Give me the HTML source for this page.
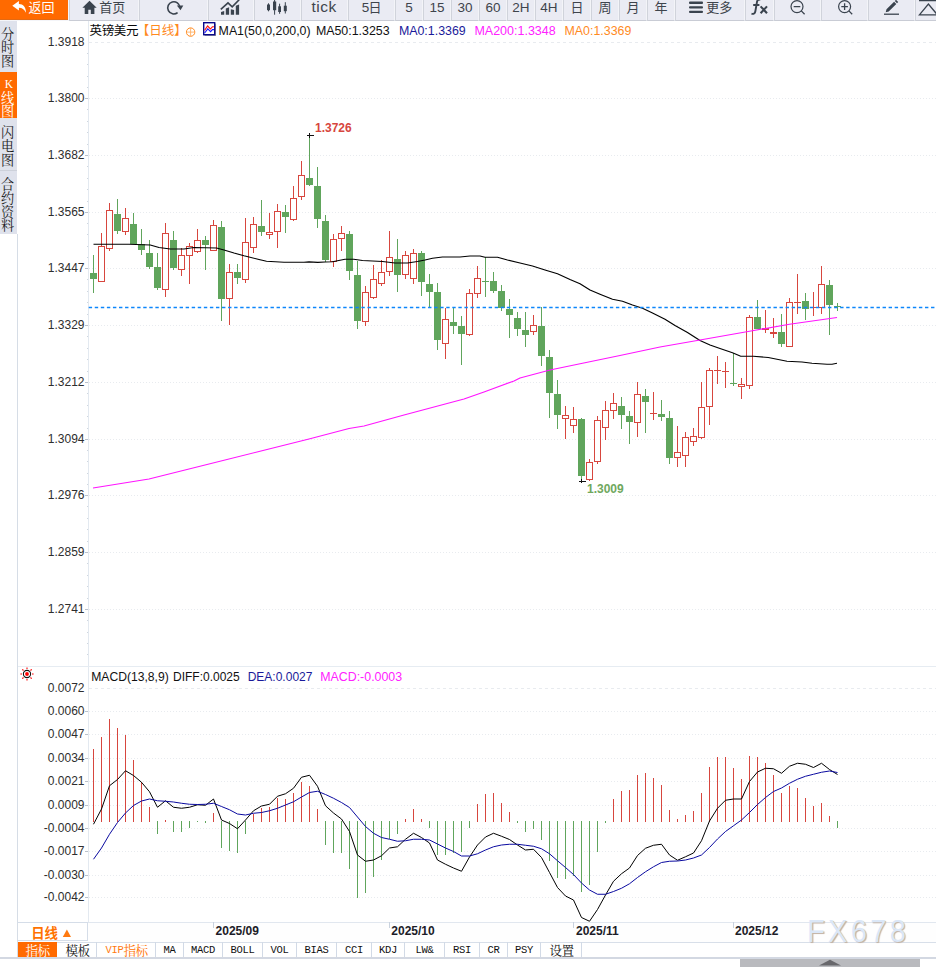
<!DOCTYPE html>
<html lang="zh-CN"><head><meta charset="utf-8">
<title>英镑美元 日线</title>
<style>
html,body{margin:0;padding:0;background:#fff;}
body{width:936px;height:967px;overflow:hidden;position:relative;font-family:"Liberation Sans",sans-serif;color:#222;}
#app{position:absolute;left:0;top:0;width:936px;height:967px;overflow:hidden;background:#fff;}
.abs{position:absolute;}
.t{position:absolute;white-space:nowrap;font-size:12px;line-height:14px;height:14px;}
.yl{position:absolute;left:20px;width:64.5px;text-align:right;font-size:12px;line-height:14px;height:14px;color:#2e2e2e;white-space:nowrap;}
#toolbar{position:absolute;left:0;top:0;width:936px;height:21px;background:#eaebf3;}
.cell{position:absolute;top:0;height:21px;box-sizing:border-box;border-left:1px solid #d0d3db;border-right:1px solid #f3f4f8;border-bottom:1px solid #c9ccd5;}
.tb{position:absolute;top:0;height:20px;line-height:16px;font-size:13.5px;color:#3e444c;text-align:center;white-space:nowrap;}
#side{position:absolute;left:0;top:21px;width:17.4px;height:213px;background:#dfe2ec;}
#tabs{position:absolute;left:18px;top:942px;width:918px;height:15px;border-bottom:1px solid #c5cbd6;}
.tab{position:absolute;top:0;height:15px;box-sizing:border-box;border-right:1px solid #d2dae6;font-family:"Liberation Mono",monospace;font-size:10.5px;line-height:16px;text-align:center;color:#111;letter-spacing:-0.3px;}
svg{position:absolute;left:0;top:0;overflow:visible;}
svg text{font-family:"Liberation Sans","Noto Sans CJK SC",sans-serif;}
svg text.sf{font-family:"Liberation Serif","Noto Serif CJK SC",serif;}
</style></head><body><div id="app">

<div id="toolbar">
<div class="cell" style="left:69px;width:70px"></div>
<div class="cell" style="left:139px;width:69px"></div>
<div class="cell" style="left:208px;width:46px"></div>
<div class="cell" style="left:254px;width:47px"></div>
<div class="cell" style="left:301px;width:47px"></div>
<div class="cell" style="left:348px;width:47px"></div>
<div class="cell" style="left:395px;width:28px"></div>
<div class="cell" style="left:423px;width:28px"></div>
<div class="cell" style="left:451px;width:28px"></div>
<div class="cell" style="left:479px;width:28px"></div>
<div class="cell" style="left:507px;width:28px"></div>
<div class="cell" style="left:535px;width:28px"></div>
<div class="cell" style="left:563px;width:28px"></div>
<div class="cell" style="left:591px;width:28px"></div>
<div class="cell" style="left:619px;width:28px"></div>
<div class="cell" style="left:647px;width:28px"></div>
<div class="cell" style="left:675px;width:70px"></div>
<div class="cell" style="left:745px;width:29px"></div>
<div class="cell" style="left:774px;width:47px"></div>
<div class="cell" style="left:821px;width:47px"></div>
<div class="cell" style="left:868px;width:47px"></div>
<div class="cell" style="left:915px;width:22px"></div>
<div class="abs" style="left:0;top:0;width:69px;height:21px;background:#f4f5f9"></div><div class="abs" style="left:0;top:0;width:68px;height:20px;background:#ff6a00;border-bottom:0.6px solid #e26a14;box-sizing:border-box"></div>
<div class="tb" style="left:301px;width:46px;font-size:15.5px;letter-spacing:0.5px;line-height:14px">tick</div>
<div class="tb" style="left:395px;width:28px;">5</div>
<div class="tb" style="left:423px;width:28px;">15</div>
<div class="tb" style="left:451px;width:28px;">30</div>
<div class="tb" style="left:479px;width:28px;">60</div>
<div class="tb" style="left:507px;width:28px;">2H</div>
<div class="tb" style="left:535px;width:28px;">4H</div>
<div class="tb" style="left:358px;width:15px;">5</div>
</div>
<div id="side"></div>
<div class="abs" style="left:0;top:72px;width:17.4px;height:46px;background:#ff6a00"></div>
<div class="abs" style="left:0;top:170px;width:17.4px;height:1px;background:#cdd1da"></div>
<div class="abs" style="left:17px;top:234px;width:1px;height:723px;background:#d6dde6"></div>
<div class="yl" style="top:35.4px">1.3918</div>
<div class="yl" style="top:91.4px">1.3800</div>
<div class="yl" style="top:148.4px">1.3682</div>
<div class="yl" style="top:205.4px">1.3565</div>
<div class="yl" style="top:261.4px">1.3447</div>
<div class="yl" style="top:318.4px">1.3329</div>
<div class="yl" style="top:375.4px">1.3212</div>
<div class="yl" style="top:432.4px">1.3094</div>
<div class="yl" style="top:488.4px">1.2976</div>
<div class="yl" style="top:545.4px">1.2859</div>
<div class="yl" style="top:602.4px">1.2741</div>
<div class="yl" style="top:681.4px">0.0072</div>
<div class="yl" style="top:704.4px">0.0060</div>
<div class="yl" style="top:727.4px">0.0047</div>
<div class="yl" style="top:751.4px">0.0034</div>
<div class="yl" style="top:774.4px">0.0021</div>
<div class="yl" style="top:798.4px">0.0009</div>
<div class="yl" style="top:821.4px">-0.0004</div>
<div class="yl" style="top:844.4px">-0.0017</div>
<div class="yl" style="top:868.4px">-0.0030</div>
<div class="yl" style="top:890.4px">-0.0042</div>
<div class="t" style="left:218.6px;top:24px;color:#111;font-size:12.35px;">MA1(50,0,200,0)</div>
<div class="t" style="left:315.9px;top:24px;color:#111;font-size:12.4px;">MA50:1.3253</div>
<div class="t" style="left:398.9px;top:24px;color:#1a1a9a;font-size:12.4px;">MA0:1.3369</div>
<div class="t" style="left:474.4px;top:24px;color:#ff22ff;font-size:12.5px;">MA200:1.3348</div>
<div class="t" style="left:564.5px;top:24px;color:#ff8a1e;font-size:12.4px;">MA0:1.3369</div>
<div class="t" style="left:91.2px;top:670px;color:#111;font-size:12.15px;">MACD(13,8,9)</div>
<div class="t" style="left:173px;top:670px;color:#111;font-size:12px;">DIFF:0.0025</div>
<div class="t" style="left:247.7px;top:670px;color:#1a1a9a;font-size:12px;">DEA:0.0027</div>
<div class="t" style="left:320.2px;top:670px;color:#ff22ff;font-size:12.4px;">MACD:-0.0003</div>
<div class="t" style="left:315px;top:121.1px;color:#d7463e;font-size:12px;font-weight:bold;">1.3726</div>
<div class="t" style="left:587px;top:482px;color:#6fa85e;font-size:12px;font-weight:bold;">1.3009</div>
<div class="abs" style="left:18px;top:922px;width:918px;height:19px;border-top:1px solid #e1e7ef;border-bottom:1px solid #d8dfe9;background:#fefefe"></div>
<div class="abs" style="left:18px;top:922px;width:70px;height:19px;box-sizing:border-box;border:1px solid #d5dde8;border-left:none;background:#fff"></div>
<div class="t" style="left:215.6px;top:924.4px;color:#1c1c28;font-size:12px;font-weight:bold;">2025/09</div>
<div class="t" style="left:391.3px;top:924.4px;color:#1c1c28;font-size:12px;font-weight:bold;">2025/10</div>
<div class="t" style="left:576px;top:924.4px;color:#1c1c28;font-size:12px;font-weight:bold;">2025/11</div>
<div class="t" style="left:735px;top:924.4px;color:#1c1c28;font-size:12px;font-weight:bold;">2025/12</div>
<div id="tabs">
<div class="tab" style="left:0px;width:39px;background:#ff6a00;border-right:none;"></div>
<div class="tab" style="left:39px;width:40px;"></div>
<div class="tab" style="left:79px;width:59px;"></div>
<div class="tab" style="left:138px;width:28px;">MA</div>
<div class="tab" style="left:166px;width:39px;">MACD</div>
<div class="tab" style="left:205px;width:40px;">BOLL</div>
<div class="tab" style="left:245px;width:34px;">VOL</div>
<div class="tab" style="left:279px;width:40px;">BIAS</div>
<div class="tab" style="left:319px;width:35px;">CCI</div>
<div class="tab" style="left:354px;width:33px;">KDJ</div>
<div class="tab" style="left:387px;width:40px;">LW&amp;</div>
<div class="tab" style="left:427px;width:35px;">RSI</div>
<div class="tab" style="left:462px;width:28px;">CR</div>
<div class="tab" style="left:490px;width:33px;">PSY</div>
<div class="tab" style="left:523px;width:41px;"></div>
</div>
<div class="t" style="left:105.6px;top:942.5px;font-family:'Liberation Mono',monospace;font-size:10.5px;letter-spacing:-0.3px;color:#ff7a10;line-height:15px">VIP</div>
<div class="abs" style="left:740px;top:959px;width:180px;height:8px;background:#b9babe"></div>
<div class="abs" style="left:0;top:957px;width:936px;height:2px;background:#d3d8e2"></div>
<div class="abs" style="left:806.6px;top:913.6px;font-size:30.8px;line-height:36px;letter-spacing:3.6px;transform:scaleX(0.94);transform-origin:0 0;color:#dbe7f7;text-shadow:1.2px 1.1px 0.8px #c2b2a4;white-space:nowrap">FX678</div>
<svg width="936" height="967" viewBox="0 0 936 967">
<g stroke="#e3e9f0" stroke-width="1" fill="none" shape-rendering="crispEdges">
<line x1="88.5" y1="21" x2="88.5" y2="922"/>
<line x1="18" y1="666.5" x2="936" y2="666.5" stroke="#e6ecf2"/>
</g>
<g stroke="#e8ebef" stroke-width="1" fill="none" shape-rendering="crispEdges">
<line x1="89" y1="42.5" x2="936" y2="42.5" stroke-dasharray="3 3"/>
<line x1="89" y1="98.5" x2="936" y2="98.5" stroke-dasharray="1 2"/>
<line x1="89" y1="155.5" x2="936" y2="155.5" stroke-dasharray="1 2"/>
<line x1="89" y1="212.5" x2="936" y2="212.5" stroke-dasharray="1 2"/>
<line x1="89" y1="268.5" x2="936" y2="268.5" stroke-dasharray="1 2"/>
<line x1="89" y1="325.5" x2="936" y2="325.5" stroke-dasharray="1 2"/>
<line x1="89" y1="382.5" x2="936" y2="382.5" stroke-dasharray="1 2"/>
<line x1="89" y1="439.5" x2="936" y2="439.5" stroke-dasharray="1 2"/>
<line x1="89" y1="495.5" x2="936" y2="495.5" stroke-dasharray="1 2"/>
<line x1="89" y1="552.5" x2="936" y2="552.5" stroke-dasharray="1 2"/>
<line x1="89" y1="609.5" x2="936" y2="609.5" stroke-dasharray="1 2"/>
<line x1="89" y1="688.5" x2="936" y2="688.5" stroke-dasharray="3 3"/>
<line x1="89" y1="711.5" x2="936" y2="711.5" stroke-dasharray="1 2"/>
<line x1="89" y1="734.5" x2="936" y2="734.5" stroke-dasharray="1 2"/>
<line x1="89" y1="758.5" x2="936" y2="758.5" stroke-dasharray="1 2"/>
<line x1="89" y1="781.5" x2="936" y2="781.5" stroke-dasharray="1 2"/>
<line x1="89" y1="805.5" x2="936" y2="805.5" stroke-dasharray="1 2"/>
<line x1="89" y1="828.5" x2="936" y2="828.5" stroke-dasharray="1 2"/>
<line x1="89" y1="851.5" x2="936" y2="851.5" stroke-dasharray="1 2"/>
<line x1="89" y1="875.5" x2="936" y2="875.5" stroke-dasharray="1 2"/>
<line x1="89" y1="897.5" x2="936" y2="897.5" stroke-dasharray="1 2"/>
</g>
<g stroke="#b9c1cb" stroke-width="1" shape-rendering="crispEdges">
<line x1="85" y1="98.5" x2="88" y2="98.5"/>
<line x1="85" y1="155.5" x2="88" y2="155.5"/>
<line x1="85" y1="212.5" x2="88" y2="212.5"/>
<line x1="85" y1="268.5" x2="88" y2="268.5"/>
<line x1="85" y1="325.5" x2="88" y2="325.5"/>
<line x1="85" y1="382.5" x2="88" y2="382.5"/>
<line x1="85" y1="439.5" x2="88" y2="439.5"/>
<line x1="85" y1="495.5" x2="88" y2="495.5"/>
<line x1="85" y1="552.5" x2="88" y2="552.5"/>
<line x1="85" y1="609.5" x2="88" y2="609.5"/>
<line x1="85" y1="711.5" x2="88" y2="711.5"/>
<line x1="85" y1="734.5" x2="88" y2="734.5"/>
<line x1="85" y1="758.5" x2="88" y2="758.5"/>
<line x1="85" y1="781.5" x2="88" y2="781.5"/>
<line x1="85" y1="805.5" x2="88" y2="805.5"/>
<line x1="85" y1="828.5" x2="88" y2="828.5"/>
<line x1="85" y1="851.5" x2="88" y2="851.5"/>
<line x1="85" y1="875.5" x2="88" y2="875.5"/>
<line x1="85" y1="897.5" x2="88" y2="897.5"/>
</g><g stroke="#cfd6de" stroke-width="1" shape-rendering="crispEdges">
<line x1="87" y1="53.5" x2="88" y2="53.5"/>
<line x1="87" y1="64.5" x2="88" y2="64.5"/>
<line x1="87" y1="76.5" x2="88" y2="76.5"/>
<line x1="87" y1="87.5" x2="88" y2="87.5"/>
<line x1="87" y1="109.5" x2="88" y2="109.5"/>
<line x1="87" y1="121.5" x2="88" y2="121.5"/>
<line x1="87" y1="132.5" x2="88" y2="132.5"/>
<line x1="87" y1="144.5" x2="88" y2="144.5"/>
<line x1="87" y1="166.5" x2="88" y2="166.5"/>
<line x1="87" y1="178.5" x2="88" y2="178.5"/>
<line x1="87" y1="189.5" x2="88" y2="189.5"/>
<line x1="87" y1="201.5" x2="88" y2="201.5"/>
<line x1="87" y1="223.5" x2="88" y2="223.5"/>
<line x1="87" y1="234.5" x2="88" y2="234.5"/>
<line x1="87" y1="246.5" x2="88" y2="246.5"/>
<line x1="87" y1="257.5" x2="88" y2="257.5"/>
<line x1="87" y1="279.5" x2="88" y2="279.5"/>
<line x1="87" y1="291.5" x2="88" y2="291.5"/>
<line x1="87" y1="302.5" x2="88" y2="302.5"/>
<line x1="87" y1="314.5" x2="88" y2="314.5"/>
<line x1="87" y1="336.5" x2="88" y2="336.5"/>
<line x1="87" y1="348.5" x2="88" y2="348.5"/>
<line x1="87" y1="359.5" x2="88" y2="359.5"/>
<line x1="87" y1="371.5" x2="88" y2="371.5"/>
<line x1="87" y1="393.5" x2="88" y2="393.5"/>
<line x1="87" y1="405.5" x2="88" y2="405.5"/>
<line x1="87" y1="416.5" x2="88" y2="416.5"/>
<line x1="87" y1="428.5" x2="88" y2="428.5"/>
<line x1="87" y1="450.5" x2="88" y2="450.5"/>
<line x1="87" y1="461.5" x2="88" y2="461.5"/>
<line x1="87" y1="473.5" x2="88" y2="473.5"/>
<line x1="87" y1="484.5" x2="88" y2="484.5"/>
<line x1="87" y1="506.5" x2="88" y2="506.5"/>
<line x1="87" y1="518.5" x2="88" y2="518.5"/>
<line x1="87" y1="529.5" x2="88" y2="529.5"/>
<line x1="87" y1="541.5" x2="88" y2="541.5"/>
<line x1="87" y1="563.5" x2="88" y2="563.5"/>
<line x1="87" y1="575.5" x2="88" y2="575.5"/>
<line x1="87" y1="586.5" x2="88" y2="586.5"/>
<line x1="87" y1="598.5" x2="88" y2="598.5"/>
<line x1="87" y1="620.5" x2="88" y2="620.5"/>
<line x1="87" y1="632.5" x2="88" y2="632.5"/>
<line x1="87" y1="643.5" x2="88" y2="643.5"/>
<line x1="87" y1="654.5" x2="88" y2="654.5"/>
</g>
<g stroke="#c9d2de" stroke-width="1" shape-rendering="crispEdges">
<line x1="213.5" y1="922" x2="213.5" y2="928"/>
<line x1="389.5" y1="922" x2="389.5" y2="928"/>
<line x1="573.5" y1="922" x2="573.5" y2="928"/>
<line x1="733.5" y1="922" x2="733.5" y2="928"/>
</g>
<g stroke-width="1" shape-rendering="crispEdges">
<path d="M93.5 255V293" stroke="#60a55c"/>
<rect x="90" y="273" width="7" height="6" fill="#60a55c"/>
<path d="M101.5 233V246M101.5 282V282" stroke="#d7463e" fill="none"/>
<rect x="98.5" y="246.5" width="6" height="35" fill="#fff" stroke="#d7463e"/>
<path d="M109.5 203V210M109.5 249V251" stroke="#d7463e" fill="none"/>
<rect x="106.5" y="210.5" width="6" height="38" fill="#fff" stroke="#d7463e"/>
<path d="M117.5 199V234" stroke="#60a55c"/>
<rect x="114" y="214" width="7" height="17" fill="#60a55c"/>
<path d="M125.5 208V218M125.5 232V235" stroke="#d7463e" fill="none"/>
<rect x="122.5" y="218.5" width="6" height="13" fill="#fff" stroke="#d7463e"/>
<path d="M133.5 213V244" stroke="#60a55c"/>
<rect x="130" y="224" width="7" height="20" fill="#60a55c"/>
<path d="M141.5 229V255" stroke="#60a55c"/>
<rect x="138" y="244" width="7" height="6" fill="#60a55c"/>
<path d="M149.5 240V269" stroke="#60a55c"/>
<rect x="146" y="253" width="7" height="14" fill="#60a55c"/>
<path d="M157.5 253V290" stroke="#60a55c"/>
<rect x="154" y="267" width="7" height="21" fill="#60a55c"/>
<path d="M165.5 223V233M165.5 290V297" stroke="#d7463e" fill="none"/>
<rect x="162.5" y="233.5" width="6" height="56" fill="#fff" stroke="#d7463e"/>
<path d="M173.5 231V270" stroke="#60a55c"/>
<rect x="170" y="240" width="7" height="28" fill="#60a55c"/>
<path d="M181.5 248V255M181.5 270V276" stroke="#d7463e" fill="none"/>
<rect x="178.5" y="255.5" width="6" height="14" fill="#fff" stroke="#d7463e"/>
<path d="M189.5 243V246M189.5 256V284" stroke="#d7463e" fill="none"/>
<rect x="186.5" y="246.5" width="6" height="9" fill="#fff" stroke="#d7463e"/>
<path d="M197.5 229V240M197.5 252V253" stroke="#d7463e" fill="none"/>
<rect x="194.5" y="240.5" width="6" height="11" fill="#fff" stroke="#d7463e"/>
<path d="M205.5 236V270" stroke="#60a55c"/>
<rect x="202" y="240" width="7" height="5" fill="#60a55c"/>
<path d="M213.5 220V225M213.5 251V251" stroke="#d7463e" fill="none"/>
<rect x="210.5" y="225.5" width="6" height="25" fill="#fff" stroke="#d7463e"/>
<path d="M221.5 221V321" stroke="#60a55c"/>
<rect x="218" y="227" width="7" height="72" fill="#60a55c"/>
<path d="M229.5 264V272M229.5 299V325" stroke="#d7463e" fill="none"/>
<rect x="226.5" y="272.5" width="6" height="26" fill="#fff" stroke="#d7463e"/>
<path d="M237.5 264V284" stroke="#60a55c"/>
<rect x="234" y="272" width="7" height="6" fill="#60a55c"/>
<path d="M245.5 218V242M245.5 280V283" stroke="#d7463e" fill="none"/>
<rect x="242.5" y="242.5" width="6" height="37" fill="#fff" stroke="#d7463e"/>
<path d="M253.5 217V224M253.5 248V253" stroke="#d7463e" fill="none"/>
<rect x="250.5" y="224.5" width="6" height="23" fill="#fff" stroke="#d7463e"/>
<path d="M261.5 200V236" stroke="#60a55c"/>
<rect x="258" y="226" width="7" height="6" fill="#60a55c"/>
<path d="M269.5 213V232M269.5 235V239" stroke="#d7463e" fill="none"/>
<rect x="266.5" y="232.5" width="6" height="2" fill="#fff" stroke="#d7463e"/>
<path d="M277.5 204V211M277.5 232V248" stroke="#d7463e" fill="none"/>
<rect x="274.5" y="211.5" width="6" height="20" fill="#fff" stroke="#d7463e"/>
<path d="M285.5 205V233" stroke="#60a55c"/>
<rect x="282" y="212" width="7" height="5" fill="#60a55c"/>
<path d="M293.5 186V198M293.5 220V221" stroke="#d7463e" fill="none"/>
<rect x="290.5" y="198.5" width="6" height="21" fill="#fff" stroke="#d7463e"/>
<path d="M301.5 161V175M301.5 197V200" stroke="#d7463e" fill="none"/>
<rect x="298.5" y="175.5" width="6" height="21" fill="#fff" stroke="#d7463e"/>
<path d="M309.5 135V186" stroke="#60a55c"/>
<rect x="306" y="178" width="7" height="7" fill="#60a55c"/>
<path d="M317.5 167V228" stroke="#60a55c"/>
<rect x="314" y="186" width="7" height="33" fill="#60a55c"/>
<path d="M325.5 215V262" stroke="#60a55c"/>
<rect x="322" y="221" width="7" height="39" fill="#60a55c"/>
<path d="M333.5 234V239M333.5 262V267" stroke="#d7463e" fill="none"/>
<rect x="330.5" y="239.5" width="6" height="22" fill="#fff" stroke="#d7463e"/>
<path d="M341.5 226V233M341.5 239V251" stroke="#d7463e" fill="none"/>
<rect x="338.5" y="233.5" width="6" height="5" fill="#fff" stroke="#d7463e"/>
<path d="M349.5 231V280" stroke="#60a55c"/>
<rect x="346" y="234" width="7" height="37" fill="#60a55c"/>
<path d="M357.5 261V329" stroke="#60a55c"/>
<rect x="354" y="275" width="7" height="46" fill="#60a55c"/>
<path d="M365.5 286V292M365.5 322V326" stroke="#d7463e" fill="none"/>
<rect x="362.5" y="292.5" width="6" height="29" fill="#fff" stroke="#d7463e"/>
<path d="M373.5 265V279M373.5 298V299" stroke="#d7463e" fill="none"/>
<rect x="370.5" y="279.5" width="6" height="18" fill="#fff" stroke="#d7463e"/>
<path d="M381.5 260V272M381.5 284V286" stroke="#d7463e" fill="none"/>
<rect x="378.5" y="272.5" width="6" height="11" fill="#fff" stroke="#d7463e"/>
<path d="M389.5 231V257M389.5 272V276" stroke="#d7463e" fill="none"/>
<rect x="386.5" y="257.5" width="6" height="14" fill="#fff" stroke="#d7463e"/>
<path d="M397.5 239V292" stroke="#60a55c"/>
<rect x="394" y="259" width="7" height="16" fill="#60a55c"/>
<path d="M405.5 251V255M405.5 275V279" stroke="#d7463e" fill="none"/>
<rect x="402.5" y="255.5" width="6" height="19" fill="#fff" stroke="#d7463e"/>
<path d="M413.5 249V253M413.5 279V284" stroke="#d7463e" fill="none"/>
<rect x="410.5" y="253.5" width="6" height="25" fill="#fff" stroke="#d7463e"/>
<path d="M421.5 251V296" stroke="#60a55c"/>
<rect x="418" y="253" width="7" height="29" fill="#60a55c"/>
<path d="M429.5 274V307" stroke="#60a55c"/>
<rect x="426" y="284" width="7" height="8" fill="#60a55c"/>
<path d="M437.5 283V350" stroke="#60a55c"/>
<rect x="434" y="292" width="7" height="48" fill="#60a55c"/>
<path d="M445.5 308V319M445.5 344V359" stroke="#d7463e" fill="none"/>
<rect x="442.5" y="319.5" width="6" height="24" fill="#fff" stroke="#d7463e"/>
<path d="M453.5 308V334" stroke="#60a55c"/>
<rect x="450" y="322" width="7" height="4" fill="#60a55c"/>
<path d="M461.5 316V365" stroke="#60a55c"/>
<rect x="458" y="326" width="7" height="8" fill="#60a55c"/>
<path d="M469.5 289V293M469.5 335V336" stroke="#d7463e" fill="none"/>
<rect x="466.5" y="293.5" width="6" height="41" fill="#fff" stroke="#d7463e"/>
<path d="M477.5 266V278M477.5 294V298" stroke="#d7463e" fill="none"/>
<rect x="474.5" y="278.5" width="6" height="15" fill="#fff" stroke="#d7463e"/>
<path d="M485.5 257V297" stroke="#60a55c"/>
<rect x="482" y="281" width="7" height="1" fill="#60a55c"/>
<path d="M493.5 272V293" stroke="#60a55c"/>
<rect x="490" y="281" width="7" height="10" fill="#60a55c"/>
<path d="M501.5 285V311" stroke="#60a55c"/>
<rect x="498" y="291" width="7" height="17" fill="#60a55c"/>
<path d="M509.5 299V338" stroke="#60a55c"/>
<rect x="506" y="309" width="7" height="6" fill="#60a55c"/>
<path d="M517.5 312V336" stroke="#60a55c"/>
<rect x="514" y="318" width="7" height="11" fill="#60a55c"/>
<path d="M525.5 312V347" stroke="#60a55c"/>
<rect x="522" y="330" width="7" height="5" fill="#60a55c"/>
<path d="M533.5 315V325M533.5 332V335" stroke="#d7463e" fill="none"/>
<rect x="530.5" y="325.5" width="6" height="6" fill="#fff" stroke="#d7463e"/>
<path d="M541.5 307V366" stroke="#60a55c"/>
<rect x="538" y="326" width="7" height="30" fill="#60a55c"/>
<path d="M549.5 350V418" stroke="#60a55c"/>
<rect x="546" y="357" width="7" height="36" fill="#60a55c"/>
<path d="M557.5 380V429" stroke="#60a55c"/>
<rect x="554" y="394" width="7" height="21" fill="#60a55c"/>
<path d="M565.5 406V415M565.5 419V439" stroke="#d7463e" fill="none"/>
<rect x="562.5" y="415.5" width="6" height="3" fill="#fff" stroke="#d7463e"/>
<path d="M573.5 407V419M573.5 426V433" stroke="#d7463e" fill="none"/>
<rect x="570.5" y="419.5" width="6" height="6" fill="#fff" stroke="#d7463e"/>
<path d="M581.5 418V481" stroke="#60a55c"/>
<rect x="578" y="419" width="7" height="57" fill="#60a55c"/>
<path d="M589.5 459V462M589.5 480V481" stroke="#d7463e" fill="none"/>
<rect x="586.5" y="462.5" width="6" height="17" fill="#fff" stroke="#d7463e"/>
<path d="M597.5 416V420M597.5 462V464" stroke="#d7463e" fill="none"/>
<rect x="594.5" y="420.5" width="6" height="41" fill="#fff" stroke="#d7463e"/>
<path d="M605.5 401V410M605.5 428V440" stroke="#d7463e" fill="none"/>
<rect x="602.5" y="410.5" width="6" height="17" fill="#fff" stroke="#d7463e"/>
<path d="M613.5 393V403M613.5 411V419" stroke="#d7463e" fill="none"/>
<rect x="610.5" y="403.5" width="6" height="7" fill="#fff" stroke="#d7463e"/>
<path d="M621.5 397V429" stroke="#60a55c"/>
<rect x="618" y="406" width="7" height="9" fill="#60a55c"/>
<path d="M629.5 411V444" stroke="#60a55c"/>
<rect x="626" y="416" width="7" height="6" fill="#60a55c"/>
<path d="M637.5 382V394M637.5 423V437" stroke="#d7463e" fill="none"/>
<rect x="634.5" y="394.5" width="6" height="28" fill="#fff" stroke="#d7463e"/>
<path d="M645.5 389V433" stroke="#60a55c"/>
<rect x="642" y="396" width="7" height="6" fill="#60a55c"/>
<path d="M653.5 392V420M650 413.5H657" stroke="#d7463e" fill="none"/>
<path d="M661.5 400V421" stroke="#60a55c"/>
<rect x="658" y="414" width="7" height="3" fill="#60a55c"/>
<path d="M669.5 411V464" stroke="#60a55c"/>
<rect x="666" y="418" width="7" height="40" fill="#60a55c"/>
<path d="M677.5 426V452M677.5 458V467" stroke="#d7463e" fill="none"/>
<rect x="674.5" y="452.5" width="6" height="5" fill="#fff" stroke="#d7463e"/>
<path d="M685.5 432V437M685.5 456V467" stroke="#d7463e" fill="none"/>
<rect x="682.5" y="437.5" width="6" height="18" fill="#fff" stroke="#d7463e"/>
<path d="M693.5 428V436M693.5 442V446" stroke="#d7463e" fill="none"/>
<rect x="690.5" y="436.5" width="6" height="5" fill="#fff" stroke="#d7463e"/>
<path d="M701.5 382V407M701.5 438V439" stroke="#d7463e" fill="none"/>
<rect x="698.5" y="407.5" width="6" height="30" fill="#fff" stroke="#d7463e"/>
<path d="M709.5 368V370M709.5 407V425" stroke="#d7463e" fill="none"/>
<rect x="706.5" y="370.5" width="6" height="36" fill="#fff" stroke="#d7463e"/>
<path d="M717.5 356V384M714 370.5H721" stroke="#d7463e" fill="none"/>
<path d="M725.5 362V388M722 371.5H729" stroke="#d7463e" fill="none"/>
<path d="M733.5 353V386" stroke="#60a55c"/>
<rect x="730" y="383" width="7" height="1" fill="#60a55c"/>
<path d="M741.5 378V384M741.5 387V399" stroke="#d7463e" fill="none"/>
<rect x="738.5" y="384.5" width="6" height="2" fill="#fff" stroke="#d7463e"/>
<path d="M749.5 315V317M749.5 386V389" stroke="#d7463e" fill="none"/>
<rect x="746.5" y="317.5" width="6" height="68" fill="#fff" stroke="#d7463e"/>
<path d="M757.5 300V329" stroke="#60a55c"/>
<rect x="754" y="317" width="7" height="12" fill="#60a55c"/>
<path d="M765.5 310V333" stroke="#d7463e"/>
<rect x="762" y="328" width="7" height="2" fill="#d7463e"/>
<path d="M773.5 318V338" stroke="#d7463e"/>
<rect x="770" y="332" width="7" height="2" fill="#d7463e"/>
<path d="M781.5 314V347" stroke="#60a55c"/>
<rect x="778" y="332" width="7" height="12" fill="#60a55c"/>
<path d="M789.5 298V302M789.5 347V347" stroke="#d7463e" fill="none"/>
<rect x="786.5" y="302.5" width="6" height="44" fill="#fff" stroke="#d7463e"/>
<path d="M797.5 274V314M794 302.5H801" stroke="#d7463e" fill="none"/>
<path d="M805.5 293V320" stroke="#60a55c"/>
<rect x="802" y="301" width="7" height="8" fill="#60a55c"/>
<path d="M813.5 292V316M810 307.5H817" stroke="#d7463e" fill="none"/>
<path d="M821.5 266V284M821.5 308V314" stroke="#d7463e" fill="none"/>
<rect x="818.5" y="284.5" width="6" height="23" fill="#fff" stroke="#d7463e"/>
<path d="M829.5 280V335" stroke="#60a55c"/>
<rect x="826" y="285" width="7" height="20" fill="#60a55c"/>
<path d="M837.5 303V311" stroke="#60a55c"/>
<rect x="834" y="306" width="7" height="1" fill="#60a55c"/>
</g>
<polyline fill="none" stroke="#000" stroke-width="1.2" stroke-linejoin="round" points="93.5,244.25 109,244.25 129,244.25 150.25,245 159,247.5 170.25,249 184,249 194,247.5 216.5,248 224,250 234,253 244,255.75 259,259.5 266.5,261.25 284,262.25 304,262.25 309,261.8 317.75,262.3 325,262 332.5,261.75 345,259.25 353.75,259.25 362.5,260.5 382.5,261.5 395,263 407.5,263 417.5,261.5 425,260 432.5,258.25 442.5,257 460,257 470,256 480,256 485,257.25 497.5,257.25 507.5,260 520,263 532.5,266 545,270 557.5,273.75 570,279.5 580,283.75 590,290 600,294.25 612.5,299.25 622.5,301.25 632.5,305 642.5,308.25 652.5,313 665,319.25 675,325.5 687.5,332.5 700,340.5 710,345 720,348.5 732.5,352.75 740.75,356.25 753.25,356.25 768.25,357.5 787,361.25 802,362 812,363.25 827,364.25 832,364.25 837,363.25"/>
<polyline fill="none" stroke="#ff14ff" stroke-width="1.15" stroke-linejoin="round" points="93,488 149,479 209,464 259,451.5 309,439 349,428.5 364,426 404,415 464,399 484,392 514,381 520,378 550,370 582.5,363.25 620,355.5 660,347 700,340 753.75,330.5 789.5,324.25 837,317.5"/>
<line x1="88.7" y1="307.5" x2="936" y2="307.5" stroke="#0d86fb" stroke-width="1.3" stroke-dasharray="3.4 2.66"/>
<path d="M307 135.5H314M309.5 133V138M579 481.5H586M581.5 479V483" stroke="#111" stroke-width="1" fill="none" shape-rendering="crispEdges"/>
<g stroke-width="1" shape-rendering="crispEdges">
<path d="M93.5 749V822" stroke="#d7463e"/>
<path d="M101.5 737V822" stroke="#d7463e"/>
<path d="M109.5 719V822" stroke="#d7463e"/>
<path d="M117.5 728V822" stroke="#d7463e"/>
<path d="M125.5 735V822" stroke="#d7463e"/>
<path d="M133.5 760V822" stroke="#d7463e"/>
<path d="M141.5 782V822" stroke="#d7463e"/>
<path d="M149.5 807V822" stroke="#d7463e"/>
<path d="M157.5 821V834" stroke="#60a55c"/>
<path d="M165.5 820V822" stroke="#d7463e"/>
<path d="M173.5 821V832" stroke="#60a55c"/>
<path d="M181.5 821V832" stroke="#60a55c"/>
<path d="M189.5 821V828" stroke="#60a55c"/>
<path d="M197.5 821V822" stroke="#60a55c"/>
<path d="M205.5 821V823" stroke="#60a55c"/>
<path d="M213.5 813V822" stroke="#d7463e"/>
<path d="M221.5 821V848" stroke="#60a55c"/>
<path d="M229.5 821V851" stroke="#60a55c"/>
<path d="M237.5 821V853" stroke="#60a55c"/>
<path d="M245.5 821V834" stroke="#60a55c"/>
<path d="M253.5 814V822" stroke="#d7463e"/>
<path d="M261.5 808V822" stroke="#d7463e"/>
<path d="M269.5 807V822" stroke="#d7463e"/>
<path d="M277.5 798V822" stroke="#d7463e"/>
<path d="M285.5 799V822" stroke="#d7463e"/>
<path d="M293.5 793V822" stroke="#d7463e"/>
<path d="M301.5 782V822" stroke="#d7463e"/>
<path d="M309.5 786V822" stroke="#d7463e"/>
<path d="M317.5 809V822" stroke="#d7463e"/>
<path d="M325.5 821V845" stroke="#60a55c"/>
<path d="M333.5 821V853" stroke="#60a55c"/>
<path d="M341.5 821V853" stroke="#60a55c"/>
<path d="M349.5 821V869" stroke="#60a55c"/>
<path d="M357.5 821V898" stroke="#60a55c"/>
<path d="M365.5 821V893" stroke="#60a55c"/>
<path d="M373.5 821V877" stroke="#60a55c"/>
<path d="M381.5 821V860" stroke="#60a55c"/>
<path d="M389.5 821V839" stroke="#60a55c"/>
<path d="M397.5 821V834" stroke="#60a55c"/>
<path d="M405.5 819V822" stroke="#d7463e"/>
<path d="M413.5 809V822" stroke="#d7463e"/>
<path d="M421.5 819V822" stroke="#d7463e"/>
<path d="M429.5 821V828" stroke="#60a55c"/>
<path d="M437.5 821V855" stroke="#60a55c"/>
<path d="M445.5 821V855" stroke="#60a55c"/>
<path d="M453.5 821V853" stroke="#60a55c"/>
<path d="M461.5 821V852" stroke="#60a55c"/>
<path d="M469.5 821V828" stroke="#60a55c"/>
<path d="M477.5 804V822" stroke="#d7463e"/>
<path d="M485.5 794V822" stroke="#d7463e"/>
<path d="M493.5 793V822" stroke="#d7463e"/>
<path d="M501.5 803V822" stroke="#d7463e"/>
<path d="M509.5 812V822" stroke="#d7463e"/>
<path d="M517.5 821V823" stroke="#60a55c"/>
<path d="M525.5 821V832" stroke="#60a55c"/>
<path d="M533.5 821V829" stroke="#60a55c"/>
<path d="M541.5 821V840" stroke="#60a55c"/>
<path d="M549.5 821V861" stroke="#60a55c"/>
<path d="M557.5 821V878" stroke="#60a55c"/>
<path d="M565.5 821V879" stroke="#60a55c"/>
<path d="M573.5 821V876" stroke="#60a55c"/>
<path d="M581.5 821V892" stroke="#60a55c"/>
<path d="M589.5 821V885" stroke="#60a55c"/>
<path d="M597.5 821V852" stroke="#60a55c"/>
<path d="M605.5 821V823" stroke="#60a55c"/>
<path d="M613.5 799V822" stroke="#d7463e"/>
<path d="M621.5 791V822" stroke="#d7463e"/>
<path d="M629.5 790V822" stroke="#d7463e"/>
<path d="M637.5 775V822" stroke="#d7463e"/>
<path d="M645.5 773V822" stroke="#d7463e"/>
<path d="M653.5 778V822" stroke="#d7463e"/>
<path d="M661.5 785V822" stroke="#d7463e"/>
<path d="M669.5 810V822" stroke="#d7463e"/>
<path d="M677.5 819V822" stroke="#d7463e"/>
<path d="M685.5 815V822" stroke="#d7463e"/>
<path d="M693.5 811V822" stroke="#d7463e"/>
<path d="M701.5 793V822" stroke="#d7463e"/>
<path d="M709.5 767V822" stroke="#d7463e"/>
<path d="M717.5 757V822" stroke="#d7463e"/>
<path d="M725.5 757V822" stroke="#d7463e"/>
<path d="M733.5 768V822" stroke="#d7463e"/>
<path d="M741.5 779V822" stroke="#d7463e"/>
<path d="M749.5 756V822" stroke="#d7463e"/>
<path d="M757.5 757V822" stroke="#d7463e"/>
<path d="M765.5 763V822" stroke="#d7463e"/>
<path d="M773.5 775V822" stroke="#d7463e"/>
<path d="M781.5 793V822" stroke="#d7463e"/>
<path d="M789.5 786V822" stroke="#d7463e"/>
<path d="M797.5 788V822" stroke="#d7463e"/>
<path d="M805.5 798V822" stroke="#d7463e"/>
<path d="M813.5 806V822" stroke="#d7463e"/>
<path d="M821.5 803V822" stroke="#d7463e"/>
<path d="M829.5 816V822" stroke="#d7463e"/>
<path d="M837.5 821V828" stroke="#60a55c"/>
</g>
<polyline fill="none" stroke="#000" stroke-width="1.0" stroke-linejoin="round" points="93.5,824.25 101.5,809 109.5,785.75 117.5,779.5 125.5,770.75 133.5,775.5 141.5,782.25 149.5,791.75 157.5,807.25 165.5,800.75 173.5,807.25 181.5,808.25 189.5,807.25 197.5,804.75 205.5,805.25 213.5,799 221.5,820 229.5,823.5 237.5,828.75 245.5,820 253.5,810.75 261.5,806 269.5,804.25 277.5,796.25 285.5,793.75 293.5,788.25 301.5,777.25 309.5,775.25 317.5,786.25 325.5,805.75 333.5,813 341.5,819 349.5,831.5 357.5,855 365.5,861.25 373.5,860 381.5,855.75 389.5,848 397.5,846.75 405.5,839.25 413.5,833.25 421.5,837.5 429.5,843 437.5,860 445.5,864.25 453.5,868 461.5,871.25 469.5,857 477.5,845 485.5,837 493.5,833.25 501.5,836.25 509.5,839.5 517.5,845 525.5,850 533.5,849.25 541.5,857.5 549.5,872.5 557.5,887.5 565.5,896 573.5,900 581.5,917.5 589.5,921.25 597.5,909.5 605.5,895 613.5,881.25 621.5,873.75 629.5,868 637.5,855.5 645.5,848.25 653.5,845.25 661.5,844.25 669.5,855 677.5,860.25 685.5,856.75 693.5,853 701.5,840.75 709.5,821 717.5,808.25 725.5,800.25 733.5,799 741.5,799 749.5,781.5 757.5,772 765.5,768.25 773.5,768.75 781.5,773.25 789.5,766.25 797.5,763.25 805.5,764.25 813.5,767.5 821.5,763.25 829.5,769.5 837.5,774.5"/>
<polyline fill="none" stroke="#0a0aa0" stroke-width="1.0" stroke-linejoin="round" points="93.5,859.25 101.5,848 109.5,834.25 117.5,822.5 125.5,813 133.5,805.5 141.5,801 149.5,799 157.5,800.75 165.5,801.25 173.5,802 181.5,803.25 189.5,804.25 197.5,804.5 205.5,804.25 213.5,803.25 221.5,806.5 229.5,809.75 237.5,814 245.5,815 253.5,813.25 261.5,812.5 269.5,810.75 277.5,808.25 285.5,805 293.5,801.75 301.5,797 309.5,792.5 317.5,791.25 325.5,794.5 333.5,798.25 341.5,802.5 349.5,807.5 357.5,817 365.5,826.5 373.5,833.25 381.5,837.5 389.5,839.25 397.5,841.25 405.5,840.75 413.5,839.25 421.5,839.25 429.5,840 437.5,844 445.5,848 453.5,851.5 461.5,856 469.5,856 477.5,853.75 485.5,850 493.5,846.75 501.5,845 509.5,844.25 517.5,844.25 525.5,845.25 533.5,846.25 541.5,848.75 549.5,853.75 557.5,860.75 565.5,867.5 573.5,874.5 581.5,883 589.5,890 597.5,894.25 605.5,894.25 613.5,891.5 621.5,888.25 629.5,883.75 637.5,877.5 645.5,871.75 653.5,866.75 661.5,862.5 669.5,861.25 677.5,861 685.5,860 693.5,858 701.5,855 709.5,847.5 717.5,839 725.5,831.5 733.5,825.75 741.5,820 749.5,812.5 757.5,804.5 765.5,797.5 773.5,791.5 781.5,788 789.5,783.25 797.5,779.25 805.5,776.25 813.5,774.25 821.5,772.25 829.5,771 837.5,772.5"/>
<path d="M12.3 5.8L18.9 1V3.9C23.2 4 26 7 26 12.8C24.2 9.2 22.2 7.9 18.9 7.8V10.6Z" fill="#fff"/>
<path d="M89.5 0.7L96.7 7.7H94.4V14H90.8V9.8H88.3V14H84.7V7.7H82.4Z" fill="#3a434e"/>
<path d="M179.9 7.4A6.1 6.1 0 1 0 177.6 12.6" fill="none" stroke="#3a434e" stroke-width="1.6"/>
<path d="M176.9 5.4H183.3L180.5 10.2Z" fill="#3a434e"/>
<g fill="#3a434e"><path d="M221 12L224.2 11V14.7H221Z"/><path d="M225.8 8.6L229.1 7.3V14.7H225.8Z"/><path d="M230.8 9.2L234.1 10V14.7H230.8Z"/><path d="M235.8 5.8L239.1 4.4V14.7H235.8Z"/></g>
<path d="M220.8 9.4L228 2.8L232.2 6.8L239.2 -0.3" fill="none" stroke="#3a434e" stroke-width="1.6"/>
<g fill="#3a434e"><rect x="267" y="4.5" width="3" height="5.7"/><rect x="268" y="3.3" width="1" height="8"/><rect x="273" y="1.5" width="3.2" height="8.7"/><rect x="274.1" y="-1" width="1" height="15.7"/><rect x="278.2" y="6.3" width="2.8" height="5.7"/><rect x="279.1" y="3.7" width="1" height="10.1"/><rect x="283.8" y="5.7" width="3" height="5.5"/><rect x="284.8" y="2.2" width="1" height="11.3"/></g>
<g fill="#3a434e"><rect x="689" y="1.6" width="14" height="2.3" rx="1"/><rect x="689" y="6.2" width="14" height="2.3" rx="1"/><rect x="689" y="10.8" width="14" height="2.3" rx="1"/></g>
<path d="M751.5 13.6C753.6 14.4 755 13.4 755.4 11L757 1.8C757.4 -0.2 758.6 -0.8 760.4 -0.2M753.2 5H759.4" fill="none" stroke="#3a434e" stroke-width="1.9"/>
<path d="M760.6 6.4L767 13.2M767 6.4L760.6 13.2" fill="none" stroke="#3a434e" stroke-width="2.1"/>
<circle cx="797" cy="6.6" r="6" fill="none" stroke="#3a434e" stroke-width="1.2"/>
<path d="M793.7 6.6H800.3 M801.3 10.9L804.6 14.2" fill="none" stroke="#3a434e" stroke-width="1.3"/>
<circle cx="844.6" cy="6.6" r="6" fill="none" stroke="#3a434e" stroke-width="1.2"/>
<path d="M841.3000000000001 6.6H847.9 M844.6 3.3V9.9 M848.9 10.9L852.2 14.2" fill="none" stroke="#3a434e" stroke-width="1.3"/>
<path d="M885.7 12.3L886.5 9.3L894.1 1.7L896.3 3.9L888.7 11.5ZM894.8 1L896 -0.2L898.2 2L897 3.2Z" fill="#3a434e"/><path d="M884 14.2H899" stroke="#3a434e" stroke-width="1.3"/>
<path d="M919 0.6H936M919.4 14.8L928.4 4L937.4 14.8Z" fill="none" stroke="#3a434e" stroke-width="1.3"/>
<circle cx="190.6" cy="32.1" r="4.2" fill="none" stroke="#ff8a1e" stroke-width="1"/><path d="M186.4 32.1H194.8M190.6 27.9V36.3" stroke="#ffb067" stroke-width="0.9"/>
<rect x="204.6" y="23.6" width="11.4" height="12.4" fill="#9a9aa4"/><rect x="203.7" y="22.7" width="11" height="12" fill="#fff" stroke="#0a0a8c" stroke-width="1.4"/>
<path d="M204.6 30.4L207.6 26L210.4 29L212.4 26.8H214" fill="none" stroke="#ff1a1a" stroke-width="1.1"/><path d="M204.6 33L207.8 28.8L210.6 31.6L212.4 29.6H214" fill="none" stroke="#1a1aff" stroke-width="1.1"/>
<circle cx="27" cy="674" r="3.6" fill="#fff" stroke="#111" stroke-width="1.1"/><circle cx="27" cy="674" r="1.9" fill="#ff0000"/>
<path d="M27 667.4V669M27 679V680.6M20.4 674H22M32 674H33.6M22.3 669.3L23.5 670.5M30.5 677.5L31.7 678.7M31.7 669.3L30.5 670.5M23.5 677.5L22.3 678.7" stroke="#ff0000" stroke-width="1.1" fill="none"/>
<path d="M62.8 937L66.9 929.4L71 937Z" fill="#ff7a10"/>
<path d="M819 965.6L830 959.8L841 965.6Z" fill="#68686c"/>
<text x="28.6 41.6" y="12.2" font-size="13" fill="#fff">返回</text>
<text x="99.2 112.2" y="12.2" font-size="13" fill="#3e444c">首页</text>
<text x="368.6" y="12.2" font-size="13" fill="#3e444c">日</text>
<text x="570.5" y="12.2" font-size="13" fill="#3e444c">日</text>
<text x="598.5" y="12.2" font-size="13" fill="#3e444c">周</text>
<text x="626.5" y="12.2" font-size="13" fill="#3e444c">月</text>
<text x="654.5" y="12.2" font-size="13" fill="#3e444c">年</text>
<text x="706.3 719.3" y="12.2" font-size="13" fill="#3e444c">更多</text>
<text x="89.6 101.7 113.8 125.9" y="35" font-size="12.5" fill="#080808">英镑美元</text>
<text x="136.7 149.2 161.7 174.2" y="35" font-size="12.5" fill="#ff8a1e">【日线】</text>
<text class="sf" x="0.95" y="38.7" font-size="13.2" fill="#1c1c1c">分</text>
<text class="sf" x="0.95" y="52.4" font-size="13.2" fill="#1c1c1c">时</text>
<text class="sf" x="0.95" y="66.1" font-size="13.2" fill="#1c1c1c">图</text>
<text class="sf" x="0.95" y="102.5" font-size="13.2" fill="#fff">线</text>
<text class="sf" x="0.95" y="116.2" font-size="13.2" fill="#fff">图</text>
<text class="sf" x="0.95" y="137.2" font-size="13.2" fill="#1c1c1c">闪</text>
<text class="sf" x="0.95" y="150.9" font-size="13.2" fill="#1c1c1c">电</text>
<text class="sf" x="0.95" y="164.7" font-size="13.2" fill="#1c1c1c">图</text>
<text class="sf" x="0.95" y="189.2" font-size="13.2" fill="#1c1c1c">合</text>
<text class="sf" x="0.95" y="202.9" font-size="13.2" fill="#1c1c1c">约</text>
<text class="sf" x="0.95" y="216.6" font-size="13.2" fill="#1c1c1c">资</text>
<text class="sf" x="0.95" y="230.3" font-size="13.2" fill="#1c1c1c">料</text>
<text x="31.2 44.4" y="937.8" font-size="13.4" font-weight="bold" fill="#ff7200">日线</text>
<text class="sf" x="25.4 37.4" y="954.5" font-size="12.6" fill="#fff">指标</text>
<text class="sf" x="65.6 77.6" y="954.5" font-size="12.6" fill="#111">模板</text>
<text class="sf" x="123.6 135.6" y="954.5" font-size="12.6" fill="#ff7200">指标</text>
<text class="sf" x="549.6 561.6" y="954.5" font-size="12.6" fill="#111">设置</text>
</svg>
<div class="t" style="left:0;width:18px;text-align:center;top:76.6px;font-family:'Liberation Serif',serif;font-size:11.5px;color:#fff">K</div>
</div></body></html>
